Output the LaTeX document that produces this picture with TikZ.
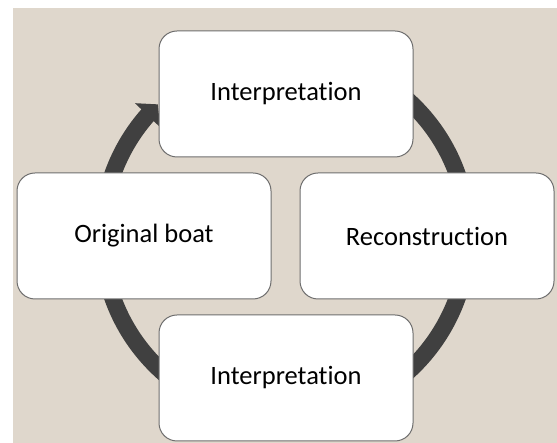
\documentclass[tikz,border=0pt]{standalone}
\usepackage{fontspec}
\setmainfont{Carlito}[Ligatures=NoCommon]
\usepackage{xcolor}
\usepackage{tikz}
\usetikzlibrary{arrows.meta,bending,positioning}

\definecolor{paper}{RGB}{223,215,204}
\definecolor{ring}{RGB}{64,64,64}
\definecolor{edge}{RGB}{110,110,110}

\begin{document}
\begin{tikzpicture}[
    x=1pt, y=1pt,
    stage/.style={rectangle, rounded corners=18pt, draw=edge, line width=1pt, fill=white,
        minimum width=254pt, minimum height=126pt, align=center,
        font=\fontsize{26.5}{30}\selectfont},
    cycle/.style={ring, line width=17pt, -{Triangle[length=15pt,width=34pt,flex]}}
]
    \useasboundingbox (0,0) rectangle (557,443);
    \fill[paper] (13,0) rectangle (557,435);

    % ring behind the boxes
    \coordinate (centre) at (285,207);
    \draw[cycle] (centre) ++(100:183) arc[start angle=100, end angle=-226, radius=183];

    \node[stage] (interp1) at (286,349) {Interpretation};
    \node[stage] (orig) at (144,207) {Original boat};
    \node[stage] (recon) at (427,207) {Reconstruction};
    \node[stage] (interp2) at (286,65) {Interpretation};
\end{tikzpicture}
\end{document}
